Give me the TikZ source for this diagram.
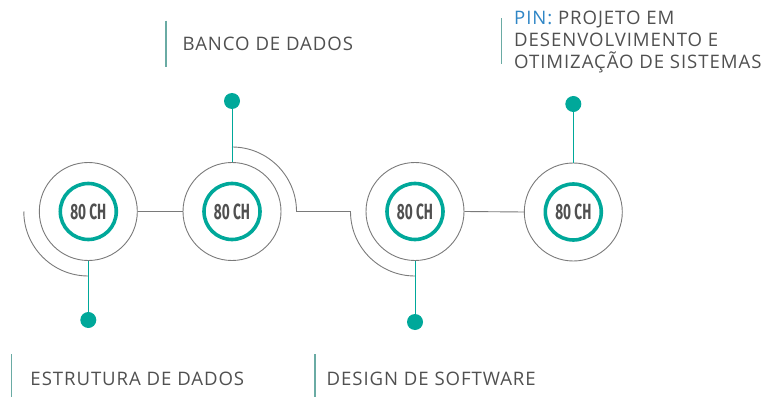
\documentclass[tikz,border=0pt]{standalone}
\usepackage{fontspec}
\setmainfont{Open Sans}[LetterSpace=5]
\newfontfamily\chfont{Fira Sans}[BoldFont={Fira Sans Bold}]
\definecolor{teal1}{HTML}{00A89A}
\definecolor{ringgray}{HTML}{7A7A7A}
\definecolor{txtgray}{HTML}{505050}
\definecolor{bartl}{HTML}{6AABA4}
\definecolor{pinblue}{HTML}{2F86C6}
\tikzset{
  outer/.style={circle,draw=ringgray,line width=0.9pt,minimum size=98pt,inner sep=0pt},
  ring/.style={circle,draw=teal1,line width=3.6pt,minimum size=56pt,inner sep=0pt,
    font=\chfont\bfseries\fontsize{22}{22}\selectfont,text=txtgray},
  link/.style={draw=ringgray,line width=0.9pt},
  stem/.style={draw=teal1,line width=1pt},
  dot/.style={circle,fill=teal1,minimum size=16pt,inner sep=0pt},
  bar/.style={draw=bartl,line width=1.4pt},
  lbl/.style={anchor=base west,inner sep=0pt,text=txtgray,
    font=\fontsize{18.6}{21.7}\selectfont,align=left},
}
\newcommand{\chtxt}{\scalebox{0.62}[1]{80 CH}}
\begin{document}
\begin{tikzpicture}[x=1pt,y=1pt]
\useasboundingbox (0,0) rectangle (784,-398);
% circles
\node[outer] (c1) at (88.3,-211.5) {};
\node[outer] (c2) at (232,-211.5) {};
\node[outer] (c3) at (415,-211.5) {};
\node[outer] (c4) at (573.3,-212) {};
\node[ring] (r1) at (c1) {\chtxt};
\node[ring] (r2) at (c2) {\chtxt};
\node[ring] (r3) at (c3) {\chtxt};
\node[ring] (r4) at (c4) {\chtxt};
% straight links
\draw[link] (c1.east) -- (c2.west);
\draw[link] (c3.east) -- (c4.west);
% arcs
\draw[link] ([xshift=-64.5pt]c1.center) arc[start angle=180,end angle=270,radius=64.5pt];
\draw[link] ([yshift=64.5pt]c2.center) arc[start angle=90,end angle=0,radius=64.5pt]
  -- ([xshift=-64.5pt]c3.center) arc[start angle=180,end angle=270,radius=64.5pt];
% dots and stems
\node[dot] (d1) at (88.3,-320) {};
\node[dot] (d2) at (232,-101) {};
\node[dot] (d3) at (415,-322) {};
\node[dot] (d4) at (573.3,-104) {};
\draw[stem] (c1.south) -- (d1.center);
\draw[stem] (c2.north) -- (d2.center);
\draw[stem] (c3.south) -- (d3.center);
\draw[stem] (c4.north) -- (d4.center);
% labels
\coordinate (b1a) at (166,-20.7); \coordinate (b1b) at (166,-66.7);
\draw[bar] (b1a) -- (b1b);
\node[lbl] (t1) at (182.5,-50.7) {BANCO DE DADOS};
\coordinate (b2a) at (11.5,-354); \coordinate (b2b) at (11.5,-397);
\draw[bar] (b2a) -- (b2b);
\node[lbl] (t2) at (30.3,-385) {ESTRUTURA DE DADOS};
\coordinate (b3a) at (315,-354); \coordinate (b3b) at (315,-397);
\draw[bar] (b3a) -- (b3b);
\node[lbl] (t3) at (326.5,-385) {DESIGN DE SOFTWARE};
\coordinate (b4a) at (501.5,-18.3); \coordinate (b4b) at (501.5,-64.3);
\draw[bar] (b4a) -- (b4b);
\node[lbl] (t4) at (514,-68.3) {\textcolor{pinblue}{PIN:} PROJETO EM\\DESENVOLVIMENTO E\\OTIMIZAÇÃO DE SISTEMAS};
\end{tikzpicture}
\end{document}
